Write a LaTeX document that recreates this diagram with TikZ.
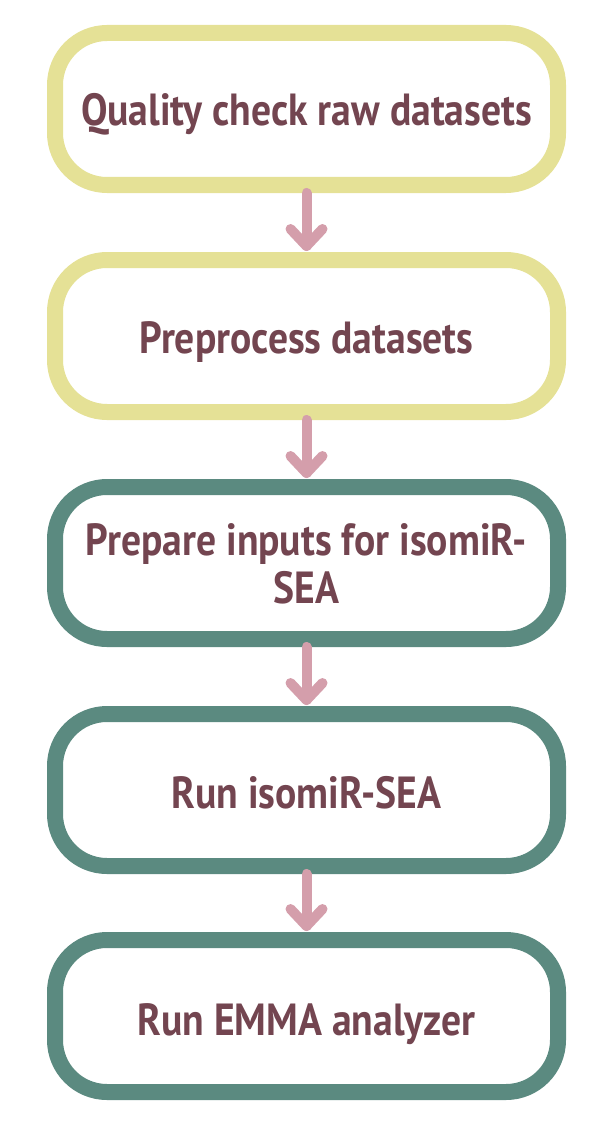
\documentclass[tikz,border=0pt]{standalone}
\usepackage{fontspec}
\setmainfont{PT Sans}
\usetikzlibrary{calc}
\definecolor{yel}{HTML}{E5E196}
\definecolor{teal2}{HTML}{5B8A80}
\definecolor{txt}{HTML}{734550}
\definecolor{arr}{HTML}{D49EAB}
\newcommand{\boxtxt}[2]{\raisebox{#1}[0pt][0pt]{\scalebox{0.88}[1]{#2}}}
\tikzset{
  stepbox/.style={draw=#1, fill=white, line width=16pt, rounded corners=52pt,
    minimum width=503pt, minimum height=152pt, inner sep=0pt,
    font=\fontsize{45}{50}\selectfont\bfseries, text=txt, align=center},
  arrline/.style={draw=arr, line width=10pt, line cap=round, line join=round}
}
\begin{document}
\begin{tikzpicture}[x=1pt,y=-1pt]
\useasboundingbox (0,0) rectangle (612,1126);
\node[stepbox=yel] (b1) at (306.5,109) {\boxtxt{-17pt}{Quality check raw datasets}};
\node[stepbox=yel] (b2) at (306.5,336) {\boxtxt{-17pt}{Preprocess datasets}};
\node[stepbox=teal2] (b3) at (306.5,563) {\boxtxt{-16pt}{Prepare inputs for isomiR-}\\[-2pt]\boxtxt{-16pt}{SEA}};
\node[stepbox=teal2] (b4) at (306.5,790) {\boxtxt{-18pt}{Run isomiR-SEA}};
\node[stepbox=teal2] (b5) at (306.5,1016) {\boxtxt{-19pt}{Run EMMA analyzer}};
\foreach \a/\b in {b1/b2,b2/b3,b3/b4,b4/b5}{
  \coordinate (tip-\a) at ($(\b.north)+(0,-6)$);
  \draw[arrline] (\a.south) -- (tip-\a);
  \draw[arrline] ($(tip-\a)+(-16,-17)$) -- (tip-\a) -- ($(tip-\a)+(16,-17)$);
}
\end{tikzpicture}
\end{document}
